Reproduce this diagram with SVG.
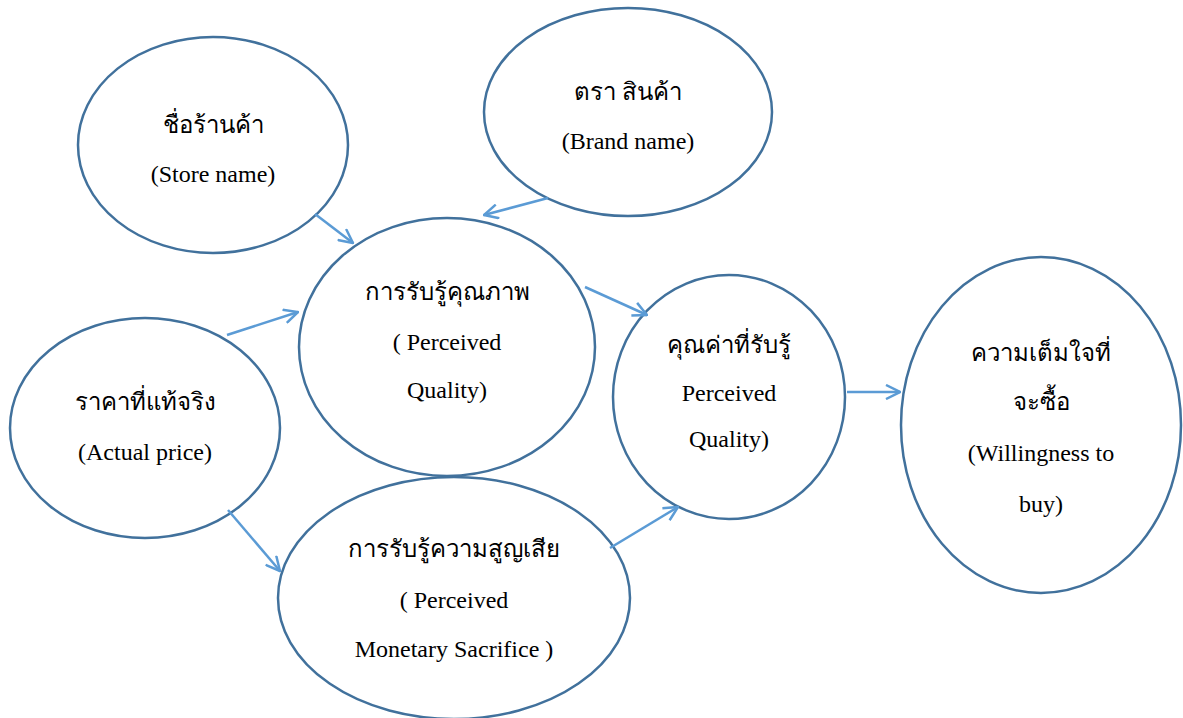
<svg xmlns="http://www.w3.org/2000/svg" width="1183" height="718" viewBox="0 0 1183 718">
<defs>
<style>
.node{fill:#fff;stroke:#41719C;stroke-width:2.5}
text{font-family:'Liberation Serif','Times New Roman',Times,serif;font-size:24px;fill:#000;text-anchor:middle}
.c{stroke:#5B9BD5;stroke-width:2.5;fill:none;marker-end:url(#ah)}
</style>
<marker id="ah" viewBox="0 0 16 16" refX="15" refY="8" markerWidth="16" markerHeight="16" markerUnits="userSpaceOnUse" orient="auto">
<path d="M1,1 L15,8 L1,15" fill="none" stroke="#5B9BD5" stroke-width="2.5"/>
</marker>
</defs>
<rect width="1183" height="718" fill="#fff"/>
<g id="store">
<ellipse class="node" cx="213" cy="145" rx="135" ry="108"/>
<text x="213" y="133">ชื่อร้านค้า</text>
<text x="213" y="182">(Store name)</text>
</g>
<g id="brand">
<ellipse class="node" cx="628" cy="112" rx="144" ry="104"/>
<text x="628" y="100">ตรา สินค้า</text>
<text x="628" y="149">(Brand name)</text>
</g>
<g id="actual">
<ellipse class="node" cx="145" cy="428" rx="135" ry="110"/>
<text x="145" y="410">ราคาที่แท้จริง</text>
<text x="145" y="460">(Actual price)</text>
</g>
<g id="monetary">
<ellipse class="node" cx="454" cy="598" rx="176" ry="121"/>
<text x="454" y="557">การรับรู้ความสูญเสีย</text>
<text x="454" y="608">( Perceived</text>
<text x="454" y="657">Monetary Sacrifice )</text>
</g>
<g id="quality">
<ellipse class="node" cx="447" cy="347" rx="148" ry="129"/>
<text x="447" y="300">การรับรู้คุณภาพ</text>
<text x="447" y="350">( Perceived</text>
<text x="447" y="398">Quality)</text>
</g>
<g id="value">
<ellipse class="node" cx="729" cy="397" rx="116" ry="122"/>
<text x="729" y="353">คุณค่าที่รับรู้</text>
<text x="729" y="401">Perceived</text>
<text x="729" y="447">Quality)</text>
</g>
<g id="willing">
<ellipse class="node" cx="1041" cy="425" rx="140" ry="168"/>
<text x="1041" y="361">ความเต็มใจที่</text>
<text x="1041" y="410">จะซื้อ</text>
<text x="1041" y="461">(Willingness to</text>
<text x="1041" y="512">buy)</text>
</g>
<g id="connectors">
<line class="c" x1="315" y1="214" x2="353" y2="243"/>
<line class="c" x1="548" y1="198" x2="484" y2="215"/>
<line class="c" x1="227" y1="335" x2="298" y2="312"/>
<line class="c" x1="585" y1="287" x2="647" y2="315"/>
<line class="c" x1="228" y1="510" x2="280" y2="571"/>
<line class="c" x1="610" y1="548" x2="678" y2="507"/>
<line class="c" x1="847" y1="392" x2="900" y2="392"/>
</g>
</svg>
